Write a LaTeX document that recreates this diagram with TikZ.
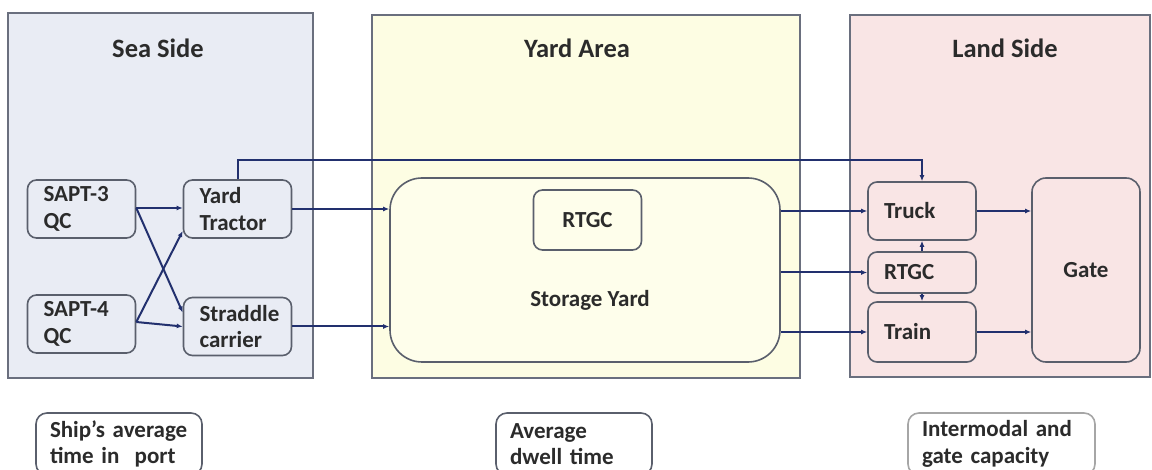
\documentclass[tikz,border=0pt]{standalone}
\usepackage{fontspec}
\setmainfont{Carlito}
\usepackage{tikz}
\usetikzlibrary{arrows.meta}

\definecolor{seafill}{HTML}{E9ECF4}
\definecolor{yardfill}{HTML}{FDFDE3}
\definecolor{storefill}{HTML}{FEFEEB}
\definecolor{landfill}{HTML}{F9E5E5}
\definecolor{panelline}{HTML}{6A6F7E}
\definecolor{boxline}{HTML}{5A5F6C}
\definecolor{linkblue}{HTML}{22306E}
\definecolor{txt}{HTML}{2B2B2B}

\tikzset{
  panel/.style={
    draw=panelline,
    line width=2pt,
  },
  title/.style={
    font=\fontsize{26.5}{30}\selectfont\bfseries,
    text=txt,
  },
  box/.style={
    shape=rectangle,
    draw=boxline,
    line width=1.6pt,
    rounded corners=9pt,
    font=\fontsize{23}{26.5}\selectfont\bfseries,
    text=txt,
    align=left,
    text width=76pt,
    inner xsep=16pt,
    inner ysep=0pt,
    minimum height=58pt,
  },
  note/.style={
    box,
    fill=white,
    rounded corners=11pt,
    inner xsep=14pt,
    minimum height=62pt,
  },
  link/.style={
    draw=linkblue,
    line width=2pt,
    -{Latex[length=6pt,width=5pt]},
  }
}

\begin{document}
\begin{tikzpicture}[x=1pt, y=-1pt]

\clip (0,0) rectangle (1152,470);

% Areas
\draw[panel, fill=seafill] (8,13) rectangle (313,378);
\draw[panel, fill=yardfill] (372,15) rectangle (800,378);
\draw[panel, fill=landfill] (850,15) rectangle (1150,377);
\node[title] (seatitle) at (158,48) {Sea Side};
\node[title] (yardtitle) at (577,48) {Yard Area};
\node[title] (landtitle) at (1005,48) {Land Side};

% Sea side
\node[box, fill=seafill] (sapt3) at (81.5,209) {SAPT-3\\QC};
\node[box, fill=seafill] (sapt4) at (81.5,324) {SAPT-4\\QC};
\node[box, fill=seafill] (tractor) at (237.5,209) {Yard\\Tractor};
\node[box, fill=seafill] (straddle) at (237.5,326.5) {Straddle\\carrier};

% Yard
\node[box, fill=storefill, minimum width=390pt, minimum height=184pt,
  text width=, inner xsep=0pt, rounded corners=32pt] (storage) at (585,270) {};
\node[box, fill=storefill, align=center, minimum height=60pt] (yardrtgc) at (587.5,220) {RTGC};
\node[font=\fontsize{23}{26.5}\selectfont\bfseries, text=txt] (storelabel) at (590,300) {Storage Yard};

% Land side
\node[box, fill=landfill] (truck) at (922,211) {Truck};
\node[box, fill=landfill, minimum height=41pt] (landrtgc) at (922,272.5) {RTGC};
\node[box, fill=landfill, minimum height=60pt] (train) at (922,332) {Train};
\node[box, fill=landfill, align=center, minimum height=184pt, rounded corners=14pt] (gate) at (1086,270) {Gate};

% Performance measures
\node[note, text width=138pt] (shiptime) at (119,444) {Ship's average\\time in~ port};
\node[note, text width=128pt] (dwell) at (574,444) {Average\\dwell time};
\node[note, draw=gray!70, text width=159pt] (capacity) at (1001.5,444) {Intermodal and\\gate capacity};

% Flows
\coordinate (over) at (600,160);
\draw[link] ([yshift=1pt]sapt3.east) -- ([yshift=1pt]tractor.west);
\draw[link] ([yshift=1pt]sapt3.east) -- ([yshift=14pt]straddle.west);
\draw[link] ([yshift=2pt]sapt4.east) -- ([yshift=-22pt]tractor.west);
\draw[link] ([yshift=2pt]sapt4.east) -- (straddle.west);
\draw[link] (tractor.east) -- (tractor.east -| storage.west);
\draw[link] (straddle.east) -- (straddle.east -| storage.west);
\draw[link] (tractor.north) |- (over) -| (truck.north);
\draw[link] (storage.east |- truck.west) -- (truck.west);
\draw[link] (storage.east |- landrtgc.west) -- (landrtgc.west);
\draw[link] (storage.east |- train.west) -- (train.west);
\draw[link] (landrtgc.north) -- (truck.south);
\draw[link] (landrtgc.south) -- (train.north);
\draw[link] (truck.east) -- (truck.east -| gate.west);
\draw[link] (train.east) -- (train.east -| gate.west);

\end{tikzpicture}
\end{document}
